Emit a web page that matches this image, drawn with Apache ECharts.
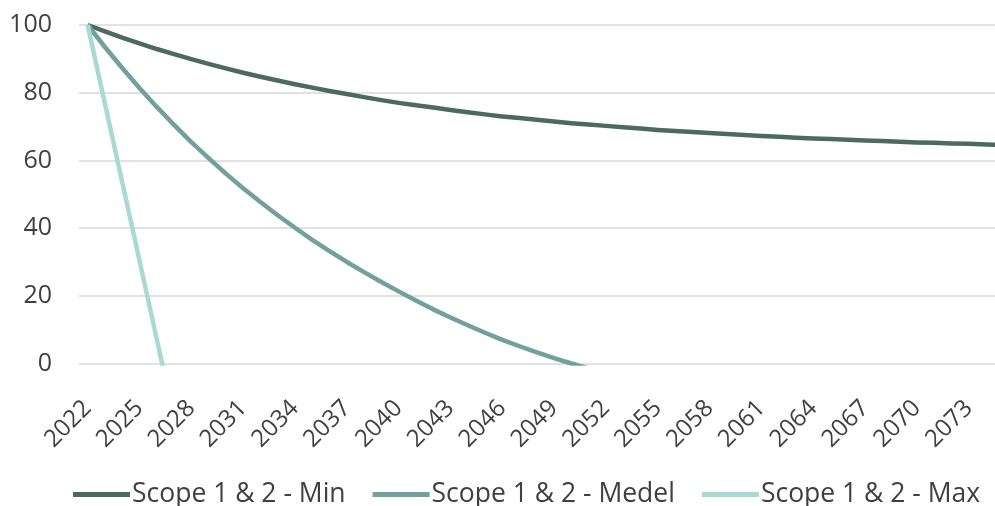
<!DOCTYPE html>
<html>
<head>
<meta charset="utf-8">
<style>
  html, body { margin: 0; padding: 0; background: #ffffff; }
  #chart { width: 995px; height: 506px; }
</style>
<script src="https://cdn.jsdelivr.net/npm/echarts@6/dist/echarts.min.js"></script>
</head>
<body>
<div id="chart"></div>
<script>
// Years on the category axis
const years = [
  '2022','2023','2024','2025','2026','2027','2028','2029','2030','2031',
  '2032','2033','2034','2035','2036','2037','2038','2039','2040','2041',
  '2042','2043','2044','2045','2046','2047','2048','2049','2050','2051',
  '2052','2053','2054','2055','2056','2057','2058','2059','2060','2061',
  '2062','2063','2064','2065','2066','2067','2068','2069','2070','2071',
  '2072','2073','2074','2075'
];

// Emission index (2022 = 100), Scope 1 & 2 scenarios
const scopeMin = [
  100, 98.1, 96.3, 94.6, 92.9, 91.4, 89.9, 88.5, 87.2, 85.9,
  84.7, 83.6, 82.5, 81.5, 80.5, 79.6, 78.7, 77.8, 77.0, 76.3,
  75.6, 74.9, 74.2, 73.6, 73.0, 72.5, 72.0, 71.5, 71.0, 70.6,
  70.2, 69.8, 69.4, 69.0, 68.7, 68.4, 68.1, 67.8, 67.5, 67.2,
  67.0, 66.7, 66.5, 66.3, 66.1, 65.9, 65.7, 65.5, 65.3, 65.2,
  65.0, 64.9, 64.7, 64.6
];
const scopeMedel = [
  100, 93.5, 87.3, 81.4, 75.8, 70.5, 65.4, 60.7, 56.1, 51.8,
  47.7, 43.8, 40.1, 36.5, 33.2, 30.0, 27.0, 24.1, 21.3, 18.6,
  16.0, 13.6, 11.3, 9.1, 7.0, 5.1, 3.3, 1.6, 0.0, -1.5
];
const scopeMax = [100, 76.8, 53.6, 30.4, 7.2, -16.0];

const seriesNames = ['Scope 1 & 2 - Min', 'Scope 1 & 2 - Medel', 'Scope 1 & 2 - Max'];
const yTicks = { min: 0, max: 100, step: 20 };

const textColor = '#404040';
const fontFamily = '"Open Sans", "Noto Sans", sans-serif';
const colors = ['#4d6a61', '#72a09c', '#aad9d3'];

const chart = echarts.init(document.getElementById('chart'), null, { renderer: 'canvas' });

function lineSeries(name, data, color) {
  return {
    name: name,
    type: 'line',
    data: data,
    symbol: 'none',
    smooth: false,
    clip: true,
    lineStyle: { color: color, width: 4.5, cap: 'butt', join: 'round' },
    itemStyle: { color: color },
    emphasis: { disabled: true }
  };
}

chart.setOption({
  animation: false,
  backgroundColor: '#ffffff',
  color: colors,
  grid: {
    left: 79,
    right: -17,
    top: 25,
    bottom: 142.5,
    containLabel: false,
    outerBoundsMode: 'none'
  },
  legend: {
    data: seriesNames,
    left: 68,
    top: 476,
    icon: 'rect',
    itemWidth: 57,
    itemHeight: 5,
    itemGap: 27,
    textStyle: {
      color: textColor,
      fontFamily: fontFamily,
      fontSize: 26.5,
      padding: [0, 0, 0, -3]
    }
  },
  xAxis: {
    type: 'category',
    data: years,
    boundaryGap: true,
    axisLine: { show: false },
    axisTick: { show: false },
    splitLine: { show: false },
    axisLabel: {
      interval: 2,
      rotate: 45,
      margin: 41,
      color: textColor,
      fontFamily: fontFamily,
      fontSize: 24
    }
  },
  yAxis: {
    type: 'value',
    min: yTicks.min,
    max: yTicks.max,
    interval: yTicks.step,
    axisLine: { show: false },
    axisTick: { show: false },
    splitLine: { show: true, lineStyle: { color: '#d9d9d9', width: 1.5 } },
    axisLabel: {
      margin: 27,
      color: textColor,
      fontFamily: fontFamily,
      fontSize: 25
    }
  },
  series: [
    lineSeries(seriesNames[0], scopeMin, colors[0]),
    lineSeries(seriesNames[1], scopeMedel, colors[1]),
    lineSeries(seriesNames[2], scopeMax, colors[2])
  ]
});
</script>
</body>
</html>
